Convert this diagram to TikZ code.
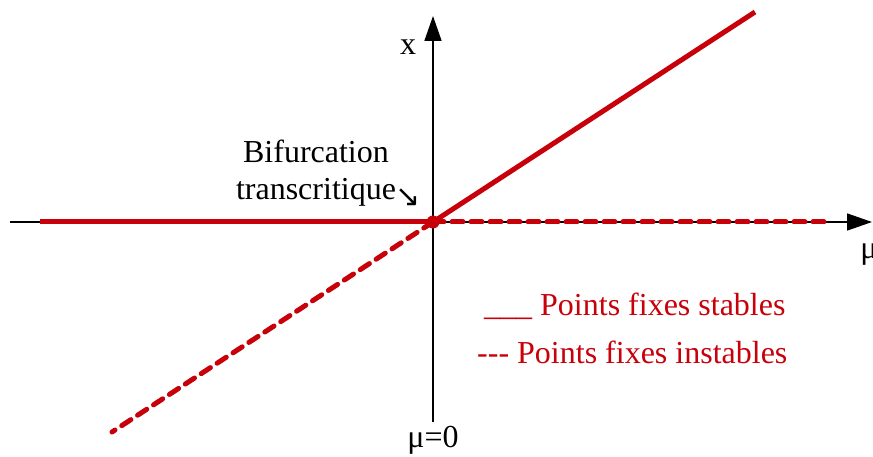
\documentclass[tikz,border=0pt]{standalone}
\usepackage{fontspec}
\setmainfont{Liberation Serif}
\newfontfamily\symfont{DejaVu Sans}
\usetikzlibrary{arrows.meta, positioning}
\definecolor{bifred}{RGB}{200,0,10}

\begin{document}
\begin{tikzpicture}[x=1pt, y=-1pt,
  axis/.style={-{Triangle[length=25pt, width=17pt]}, line width=1.6pt, black},
  stable/.style={bifred, line width=5pt},
  unstable/.style={bifred, line width=5pt, dash pattern=on 11pt off 8pt, line cap=round},
  label/.style={font=\fontsize{32}{37}\selectfont, inner sep=0pt},
  legend/.style={label, text=bifred, anchor=west}
]
\useasboundingbox (0,0) rectangle (873,457);
% axes
\coordinate (o) at (433,222);
\coordinate (xl) at (10,222);
\coordinate (xr) at (872,222);
\coordinate (yb) at (433,422);
\coordinate (yt) at (433,16);
\draw[axis] (xl) -- (xr);
\draw[axis] (yb) -- (yt);
% branches
\coordinate (s1) at (40,222);
\coordinate (s2) at (755,12);
\coordinate (u1) at (112,432);
\coordinate (u2) at (830,222);
\draw[stable] (s1) -- (o);
\draw[stable] (o) -- (s2);
\draw[unstable] (o) -- (u1);
\draw[unstable] (o) -- (u2);
\fill[bifred] (o) circle (6.5pt);
% labels
\node[label] (xlab) at (408,47) {x};
\node[label] (mulab) at (869,255) {μ};
\node[label] (mu0) at (433,440) {μ=0};
\node[label, align=center] (bif) at (316,173) {Bifurcation\\transcritique\rlap{\raisebox{-7pt}{\symfont\fontsize{30}{30}\selectfont ↘}}};
\node[legend] (leg1) at (484,306) {\_\_\_\ Points fixes stables};
\node[legend] (leg2) at (477,352) {-{}-{}- Points fixes instables};
\end{tikzpicture}
\end{document}
